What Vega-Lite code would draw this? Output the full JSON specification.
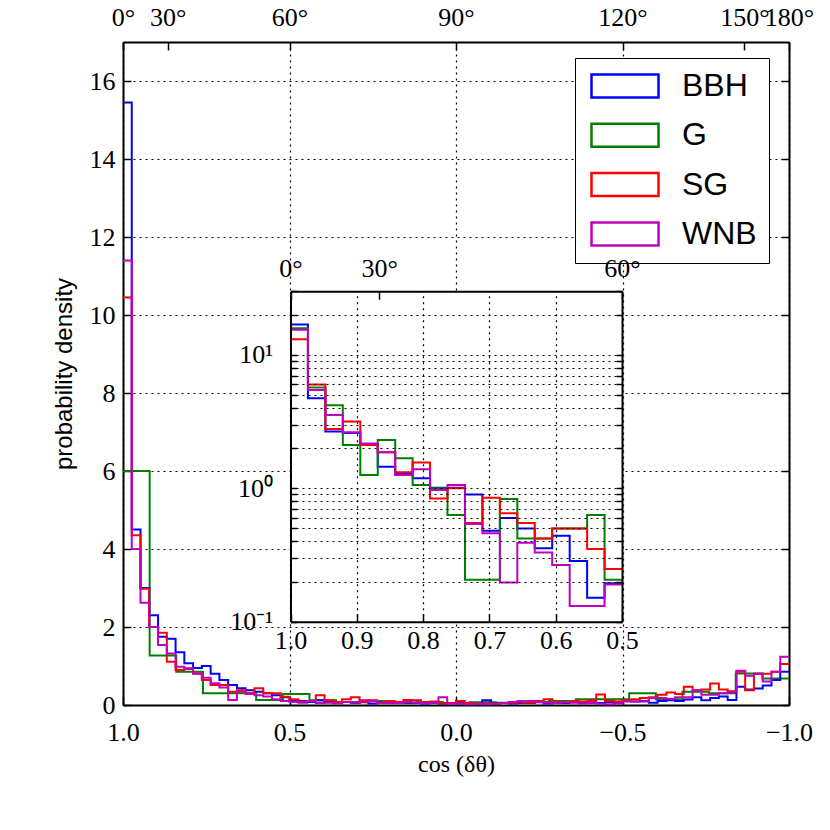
{
"$schema": "https://vega.github.io/schema/vega-lite/v6.json",
"width": 666,
"height": 663,
"autosize": "none",
"padding": {"left": 123, "top": 42, "right": 41, "bottom": 125},
"background": "white",
"config": {
  "font": "Liberation Serif",
  "view": {"stroke": null},
  "axis": {
    "domainColor": "black", "domainWidth": 2, "tickColor": "black", "tickWidth": 1.5,
    "labelFont": "Liberation Serif", "labelFontSize": 26, "labelColor": "black",
    "gridColor": "black", "gridDash": [2, 4], "gridWidth": 1.2, "gridOpacity": 1,
    "labelOverlap": false, "labelFlush": false, "labelBound": false, "titleColor": "black"
  }
},
"layer": [
  {
    "layer": [
      {
        "data": {"values": [
          {"x":1,"G":6.0},{"x":0.92,"G":6.0},{"x":0.84,"G":1.27},{"x":0.76,"G":0.85},{"x":0.68,"G":0.30},{"x":0.6,"G":0.3},{"x":0.52,"G":0.13},{"x":0.44,"G":0.28},{"x":0.36,"G":0.12},{"x":0.28,"G":0.08},{"x":0.2,"G":0.1},{"x":0.12,"G":0.06},{"x":0.04,"G":0.08},{"x":-0.04,"G":0.05},{"x":-0.12,"G":0.07},{"x":-0.2,"G":0.06},{"x":-0.28,"G":0.08},{"x":-0.36,"G":0.1},{"x":-0.44,"G":0.15},{"x":-0.52,"G":0.15},{"x":-0.6,"G":0.3},{"x":-0.68,"G":0.15},{"x":-0.76,"G":0.34},{"x":-0.84,"G":0.3},{"x":-0.92,"G":0.81},{"x":-1,"G":0.68}
        ]},
        "transform": [{"fold": ["G"], "as": ["s", "y"]}],
        "mark": {"type": "line", "interpolate": "step-before", "strokeWidth": 2},
        "encoding": {
          "x": {"field": "x", "type": "quantitative",
                "scale": {"domain": [-1, 1], "reverse": true, "nice": false, "zero": false},
                "axis": {"orient": "top", "values": [1, 0.8660254, 0.5, 0, -0.5, -0.8660254, -1],
                         "labelExpr": "format(acos(datum.value)*180/PI, '.0f') + '°'",
                         "grid": false, "tickSize": -8, "labelPadding": 20, "title": null}},
          "y": {"field": "y", "type": "quantitative",
                "scale": {"domain": [0, 17], "nice": false, "zero": true},
                "axis": {"orient": "right", "values": [0,2,4,6,8,10,12,14,16], "labels": false,
                         "grid": false, "tickSize": -8, "title": null}},
          "order": {"field": "x", "sort": "descending"},
          "color": {"field": "s", "type": "nominal",
                    "scale": {"domain": ["BBH","G","SG","WNB"], "range": ["#0000ff","#008000","#ff0000","#bf00bf"]},
                    "legend": {"title": null, "orient": "none", "legendX": 452, "legendY": 16,
                               "symbolType": "M-2.913,-1H2.913V1H-2.913Z", "symbolSize": 529,
                               "symbolStrokeWidth": 2.5, "symbolFillColor": "transparent", "symbolOffset": 22,
                               "labelOffset": 41, "labelFont": "Liberation Sans", "labelFontSize": 32,
                               "labelColor": "black", "padding": 12, "rowPadding": 15.3,
                               "strokeColor": "black", "fillColor": "white", "cornerRadius": 0}}
        }
      },
      {
        "data": {"values": [
          {"x":1,"BBH":15.45,"SG":10.45,"WNB":11.4},
          {"x":0.9737,"BBH":15.45,"SG":10.45,"WNB":11.4},
          {"x":0.9474,"BBH":4.5,"SG":4.35,"WNB":4.0},
          {"x":0.9211,"BBH":3.0,"SG":2.98,"WNB":2.62},
          {"x":0.8947,"BBH":2.3,"SG":2.0,"WNB":2.0},
          {"x":0.8684,"BBH":1.75,"SG":1.85,"WNB":1.54},
          {"x":0.8421,"BBH":1.7,"SG":1.11,"WNB":1.32},
          {"x":0.8158,"BBH":1.35,"SG":0.9,"WNB":0.98},
          {"x":0.7895,"BBH":1.07,"SG":0.94,"WNB":0.92},
          {"x":0.7632,"BBH":0.95,"SG":0.81,"WNB":0.8},
          {"x":0.7368,"BBH":1.0,"SG":0.64,"WNB":0.7},
          {"x":0.7105,"BBH":0.8,"SG":0.51,"WNB":0.56},
          {"x":0.6842,"BBH":0.64,"SG":0.51,"WNB":0.45},
          {"x":0.6579,"BBH":0.51,"SG":0.34,"WNB":0.13},
          {"x":0.6316,"BBH":0.43,"SG":0.38,"WNB":0.34},
          {"x":0.6053,"BBH":0.38,"SG":0.3,"WNB":0.28},
          {"x":0.5789,"BBH":0.34,"SG":0.43,"WNB":0.25},
          {"x":0.5526,"BBH":0.3,"SG":0.3,"WNB":0.22},
          {"x":0.5263,"BBH":0.25,"SG":0.3,"WNB":0.15},
          {"x":0.5,"BBH":0.2,"SG":0.21,"WNB":0.1},
          {"x":0.4737,"BBH":0.13,"SG":0.15,"WNB":0.08},
          {"x":0.4474,"BBH":0.1,"SG":0.08,"WNB":0.06},
          {"x":0.4211,"BBH":0.08,"SG":0.1,"WNB":0.1},
          {"x":0.3947,"BBH":0.12,"SG":0.25,"WNB":0.05},
          {"x":0.3684,"BBH":0.1,"SG":0.12,"WNB":0.06},
          {"x":0.3421,"BBH":0.06,"SG":0.08,"WNB":0.04},
          {"x":0.3158,"BBH":0.08,"SG":0.15,"WNB":0.08},
          {"x":0.2895,"BBH":0.05,"SG":0.2,"WNB":0.06},
          {"x":0.2632,"BBH":0.07,"SG":0.08,"WNB":0.12},
          {"x":0.2368,"BBH":0.04,"SG":0.12,"WNB":0.1},
          {"x":0.2105,"BBH":0.06,"SG":0.06,"WNB":0.06},
          {"x":0.1842,"BBH":0.05,"SG":0.1,"WNB":0.05},
          {"x":0.1579,"BBH":0.08,"SG":0.08,"WNB":0.05},
          {"x":0.1316,"BBH":0.06,"SG":0.13,"WNB":0.08},
          {"x":0.1053,"BBH":0.05,"SG":0.12,"WNB":0.06},
          {"x":0.0789,"BBH":0.04,"SG":0.07,"WNB":0.05},
          {"x":0.0526,"BBH":0.06,"SG":0.09,"WNB":0.06},
          {"x":0.0263,"BBH":0.03,"SG":0.04,"WNB":0.2},
          {"x":0,"BBH":0.05,"SG":0.05,"WNB":0.03},
          {"x":-0.0263,"BBH":0.04,"SG":0.1,"WNB":0.04},
          {"x":-0.0526,"BBH":0.03,"SG":0.05,"WNB":0.02},
          {"x":-0.0789,"BBH":0.02,"SG":0.03,"WNB":0.03},
          {"x":-0.1053,"BBH":0.12,"SG":0.04,"WNB":0.02},
          {"x":-0.1316,"BBH":0.03,"SG":0.03,"WNB":0.03},
          {"x":-0.1579,"BBH":0.05,"SG":0.05,"WNB":0.05},
          {"x":-0.1842,"BBH":0.04,"SG":0.06,"WNB":0.08},
          {"x":-0.2105,"BBH":0.06,"SG":0.08,"WNB":0.1},
          {"x":-0.2368,"BBH":0.05,"SG":0.06,"WNB":0.1},
          {"x":-0.2632,"BBH":0.07,"SG":0.1,"WNB":0.08},
          {"x":-0.2895,"BBH":0.04,"SG":0.15,"WNB":0.06},
          {"x":-0.3158,"BBH":0.06,"SG":0.08,"WNB":0.05},
          {"x":-0.3421,"BBH":0.05,"SG":0.07,"WNB":0.07},
          {"x":-0.3684,"BBH":0.08,"SG":0.1,"WNB":0.06},
          {"x":-0.3947,"BBH":0.06,"SG":0.09,"WNB":0.04},
          {"x":-0.4211,"BBH":0.07,"SG":0.12,"WNB":0.05},
          {"x":-0.4474,"BBH":0.05,"SG":0.27,"WNB":0.03},
          {"x":-0.4737,"BBH":0.08,"SG":0.1,"WNB":0.02},
          {"x":-0.5,"BBH":0.06,"SG":0.09,"WNB":0.04},
          {"x":-0.5263,"BBH":0.1,"SG":0.12,"WNB":0.09},
          {"x":-0.5526,"BBH":0.09,"SG":0.15,"WNB":0.09},
          {"x":-0.5789,"BBH":0.1,"SG":0.18,"WNB":0.09},
          {"x":-0.6053,"BBH":0.06,"SG":0.2,"WNB":0.18},
          {"x":-0.6316,"BBH":0.1,"SG":0.26,"WNB":0.18},
          {"x":-0.6579,"BBH":0.12,"SG":0.32,"WNB":0.16},
          {"x":-0.6842,"BBH":0.1,"SG":0.28,"WNB":0.2},
          {"x":-0.7105,"BBH":0.14,"SG":0.47,"WNB":0.2},
          {"x":-0.7368,"BBH":0.2,"SG":0.38,"WNB":0.38},
          {"x":-0.7632,"BBH":0.12,"SG":0.4,"WNB":0.26},
          {"x":-0.7895,"BBH":0.18,"SG":0.55,"WNB":0.26},
          {"x":-0.8158,"BBH":0.22,"SG":0.4,"WNB":0.3},
          {"x":-0.8421,"BBH":0.13,"SG":0.35,"WNB":0.33},
          {"x":-0.8684,"BBH":0.47,"SG":0.85,"WNB":0.88},
          {"x":-0.8947,"BBH":0.4,"SG":0.38,"WNB":0.75},
          {"x":-0.9211,"BBH":0.42,"SG":0.8,"WNB":0.8},
          {"x":-0.9474,"BBH":0.5,"SG":0.8,"WNB":0.6},
          {"x":-0.9737,"BBH":0.64,"SG":0.85,"WNB":0.85},
          {"x":-1,"BBH":0.85,"SG":1.05,"WNB":1.24}
        ]},
        "transform": [{"fold": ["BBH", "SG", "WNB"], "as": ["s", "y"]}],
        "mark": {"type": "line", "interpolate": "step-before", "strokeWidth": 2},
        "encoding": {
          "x": {"field": "x", "type": "quantitative",
                "axis": {"orient": "bottom", "values": [1, 0.5, 0, -0.5, -1],
                         "labelExpr": "replace(format(datum.value, '.1f'), '-', '−')",
                         "grid": true, "tickSize": -8, "labelPadding": 22,
                         "title": "cos (δθ)", "titleFont": "Liberation Serif", "titleFontSize": 24,
                         "titleFontWeight": "normal", "titlePadding": 7}},
          "y": {"field": "y", "type": "quantitative",
                "axis": {"orient": "left", "values": [0,2,4,6,8,10,12,14,16],
                         "grid": true, "tickSize": -8, "labelPadding": 16,
                         "title": "probability density", "titleFont": "Liberation Sans", "titleFontSize": 24,
                         "titleFontWeight": "normal", "titlePadding": 13}},
          "order": {"field": "x", "sort": "descending"},
          "color": {"field": "s", "type": "nominal"}
        }
      }
    ],
    "resolve": {"axis": {"x": "independent", "y": "independent"}}
  },
  {
    "layer": [
      {
        "data": {"values": [{}]},
        "mark": {"type": "rect", "fill": "white"},
        "encoding": {
          "x": {"datum": 1, "type": "quantitative",
                "scale": {"domain": [0.5, 1], "range": [499, 167.5], "nice": false, "zero": false},
                "axis": {"orient": "top", "offset": -249.2, "values": [1, 0.8660254, 0.5],
                         "labelExpr": "format(acos(datum.value)*180/PI, '.0f') + '°'",
                         "grid": false, "tickSize": -8, "labelPadding": 18, "zindex": 1, "title": null}},
          "x2": {"datum": 0.5},
          "y": {"datum": 0.1, "type": "quantitative",
                "scale": {"type": "log", "domain": [0.1, 30], "range": [579.7, 249.2], "nice": false},
                "axis": {"orient": "right", "offset": -167, "values": [0.1,0.2,0.3,0.4,0.5,0.6,0.7,0.8,0.9,1,2,3,4,5,6,7,8,9,10,20,30],
                         "labels": false, "grid": false, "tickSize": -6, "zindex": 1, "title": null}},
          "y2": {"datum": 30}
        }
      },
      {
        "data": {"values": [{}]},
        "mark": {"type": "rect", "fill": "white"},
        "encoding": {
          "x": {"datum": 1, "type": "quantitative",
                "axis": {"orient": "top", "offset": 0, "values": [0.9, 0.8, 0.7, 0.6],
                         "domain": false, "ticks": false, "labels": false,
                         "grid": true, "zindex": 1, "title": null}},
          "x2": {"datum": 0.5},
          "y": {"datum": 0.1, "type": "quantitative", "axis": null},
          "y2": {"datum": 30}
        }
      },
      {
        "data": {"values": [
          {"x":1,"BBH":16.9,"G":15.8,"SG":13.1,"WNB":15.4},
          {"x":0.9737,"BBH":16.9,"G":15.8,"SG":13.1,"WNB":15.4},
          {"x":0.9474,"BBH":4.73,"G":5.7,"SG":6.0,"WNB":5.46},
          {"x":0.9211,"BBH":2.66,"G":4.19,"SG":2.78,"WNB":3.54},
          {"x":0.8947,"BBH":2.6,"G":2.11,"SG":3.16,"WNB":2.63},
          {"x":0.8684,"BBH":2.14,"G":1.26,"SG":2.11,"WNB":2.17},
          {"x":0.8421,"BBH":1.45,"G":2.3,"SG":1.86,"WNB":1.86},
          {"x":0.8158,"BBH":1.28,"G":1.68,"SG":1.32,"WNB":1.26},
          {"x":0.7895,"BBH":1.19,"G":1.06,"SG":1.56,"WNB":1.39},
          {"x":0.7632,"BBH":1.01,"G":1.0,"SG":0.84,"WNB":0.97},
          {"x":0.7368,"BBH":1.01,"G":0.63,"SG":1.0,"WNB":1.06},
          {"x":0.7105,"BBH":0.9,"G":0.206,"SG":0.55,"WNB":0.54},
          {"x":0.6842,"BBH":0.48,"G":0.206,"SG":0.85,"WNB":0.46},
          {"x":0.6579,"BBH":0.6,"G":0.83,"SG":0.65,"WNB":0.197},
          {"x":0.6316,"BBH":0.5,"G":0.42,"SG":0.55,"WNB":0.39},
          {"x":0.6053,"BBH":0.355,"G":0.42,"SG":0.42,"WNB":0.33},
          {"x":0.5789,"BBH":0.44,"G":0.5,"SG":0.5,"WNB":0.266},
          {"x":0.5526,"BBH":0.285,"G":0.5,"SG":0.5,"WNB":0.131},
          {"x":0.5263,"BBH":0.151,"G":0.63,"SG":0.35,"WNB":0.131},
          {"x":0.5,"BBH":0.194,"G":0.206,"SG":0.248,"WNB":0.19}
        ]},
        "transform": [{"fold": ["BBH", "G", "SG", "WNB"], "as": ["s", "y"]}],
        "mark": {"type": "line", "interpolate": "step-before", "strokeWidth": 2},
        "encoding": {
          "x": {"field": "x", "type": "quantitative",
                "axis": {"orient": "bottom", "offset": -83.3, "values": [1, 0.9, 0.8, 0.7, 0.6, 0.5],
                         "labelExpr": "format(datum.value, '.1f')",
                         "grid": false, "tickSize": -8, "labelPadding": 14, "zindex": 1, "title": null}},
          "y": {"field": "y", "type": "quantitative",
                "axis": {"orient": "left", "offset": -167.5, "values": [0.1,0.2,0.3,0.4,0.5,0.6,0.7,0.8,0.9,1,2,3,4,5,6,7,8,9,10,20,30],
                         "labelExpr": "datum.value == 10 ? '10¹' : datum.value == 1 ? '10⁰' : datum.value == 0.1 ? '10⁻¹' : ''",
                         "grid": true, "tickSize": -6, "labelPadding": 24, "zindex": 1, "title": null}},
          "order": {"field": "x", "sort": "descending"},
          "color": {"field": "s", "type": "nominal"}
        }
      }
    ],
    "resolve": {"axis": {"x": "independent", "y": "independent"}}
  }
],
"resolve": {"scale": {"x": "independent", "y": "independent"}}
}
